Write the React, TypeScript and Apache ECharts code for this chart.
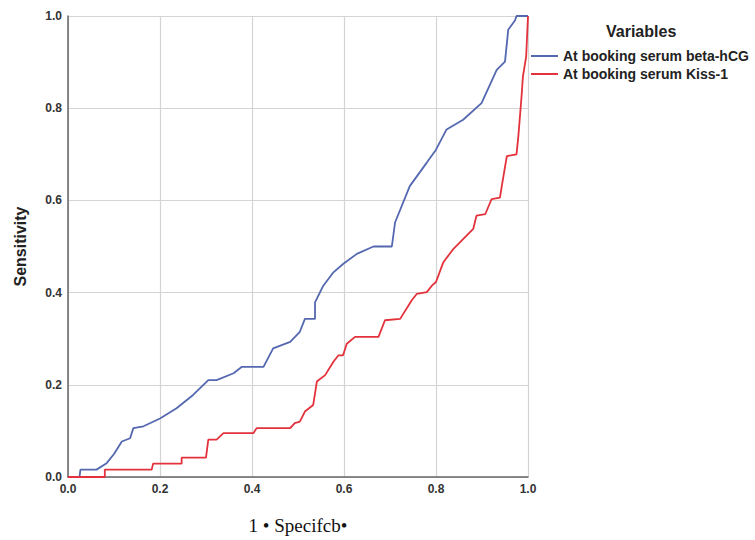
import React, { useEffect, useRef } from "react";
import * as echarts from "echarts";

const xTicks = ["0.0", "0.2", "0.4", "0.6", "0.8", "1.0"];
const seriesNames = ["At booking serum beta-hCG", "At booking serum Kiss-1"];

const betaFpr = [0, 0.025, 0.027, 0.062, 0.084, 0.1, 0.117, 0.135, 0.142, 0.164, 0.2, 0.236, 0.272, 0.305, 0.323, 0.36, 0.378, 0.425, 0.446, 0.483, 0.504, 0.515, 0.537, 0.537, 0.555, 0.577, 0.598, 0.628, 0.664, 0.704, 0.711, 0.743, 0.78, 0.8, 0.823, 0.859, 0.899, 0.932, 0.95, 0.957, 0.972, 0.975, 1];
const betaTpr = [0, 0, 0.016, 0.016, 0.03, 0.05, 0.077, 0.084, 0.106, 0.11, 0.127, 0.149, 0.178, 0.21, 0.21, 0.225, 0.239, 0.239, 0.279, 0.293, 0.315, 0.343, 0.343, 0.379, 0.415, 0.444, 0.462, 0.484, 0.5, 0.5, 0.552, 0.631, 0.682, 0.71, 0.754, 0.775, 0.811, 0.883, 0.901, 0.97, 0.991, 1, 1];

const kissFpr = [0, 0.08, 0.08, 0.182, 0.185, 0.247, 0.247, 0.3, 0.305, 0.323, 0.338, 0.403, 0.41, 0.483, 0.493, 0.504, 0.515, 0.533, 0.541, 0.559, 0.577, 0.588, 0.598, 0.606, 0.624, 0.675, 0.689, 0.722, 0.747, 0.758, 0.78, 0.791, 0.8, 0.816, 0.838, 0.881, 0.888, 0.907, 0.921, 0.939, 0.943, 0.954, 0.975, 0.979, 0.986, 0.989, 0.996, 1];
const kissTpr = [0, 0, 0.016, 0.016, 0.029, 0.029, 0.042, 0.042, 0.081, 0.081, 0.095, 0.095, 0.106, 0.106, 0.117, 0.12, 0.142, 0.156, 0.207, 0.221, 0.25, 0.264, 0.264, 0.289, 0.304, 0.304, 0.34, 0.343, 0.383, 0.397, 0.401, 0.415, 0.423, 0.466, 0.495, 0.538, 0.567, 0.57, 0.603, 0.606, 0.631, 0.696, 0.7, 0.739, 0.826, 0.869, 0.912, 1];

const zip = (a: number[], b: number[]) => a.map((v, i) => [v, b[i]]);

export default function App() {
  const ref = useRef<HTMLDivElement>(null);
  useEffect(() => {
    document.body.style.margin = "0";
    const chart = echarts.init(ref.current!, null, { renderer: "svg" });
    const sans = "Arial, 'Liberation Sans', sans-serif";
    const axisLabel = {
      fontFamily: sans,
      fontWeight: "bold" as const,
      fontSize: 12,
      color: "#333",
    };
    chart.setOption({
      animation: false,
      backgroundColor: "#fff",
      grid: { left: 68, right: 227, top: 16, bottom: 61 },
      xAxis: {
        type: "value",
        min: 0,
        max: 1,
        interval: 0.2,
        name: "1 • Specifcb•",
        nameLocation: "middle",
        nameGap: 39,
        nameTextStyle: { fontFamily: "'Liberation Serif', 'Times New Roman', serif", fontSize: 19, color: "#111" },
        axisLine: { lineStyle: { color: "#666", width: 1.5 } },
        axisTick: { show: false },
        axisLabel: { ...axisLabel, margin: 6, formatter: (v: number) => xTicks[Math.round(v * 5)] },
        splitLine: { lineStyle: { color: "#d4d4d4", width: 1.2 } },
      },
      yAxis: {
        type: "value",
        min: 0,
        max: 1,
        interval: 0.2,
        name: "Sensitivity",
        nameLocation: "middle",
        nameGap: 40,
        nameTextStyle: { fontFamily: sans, fontWeight: "bold", fontSize: 16, color: "#222" },
        axisLine: { show: true, lineStyle: { color: "#666", width: 1.5 } },
        axisTick: { show: false },
        axisLabel: { ...axisLabel, margin: 6, formatter: (v: number) => xTicks[Math.round(v * 5)] },
        splitLine: { lineStyle: { color: "#d4d4d4", width: 1.2 } },
      },
      legend: {
        orient: "vertical",
        left: 531,
        top: 48,
        padding: 0,
        itemWidth: 27,
        itemHeight: 2,
        itemGap: 2,
        icon: "rect",
        data: seriesNames,
        textStyle: { fontFamily: sans, fontWeight: "bold", fontSize: 14, lineHeight: 16, color: "#222", padding: [0, 0, 0, 0] },
      },
      graphic: [
        {
          type: "text",
          left: 606,
          top: 23,
          style: { text: "Variables", fontFamily: sans, fontWeight: "bold", fontSize: 16, fill: "#222" },
        },
      ],
      series: [
        {
          name: seriesNames[0],
          type: "line",
          data: zip(betaFpr, betaTpr),
          showSymbol: false,
          symbol: "none",
          color: "#5468b0",
          lineStyle: { width: 1.8, color: "#5468b0" },
        },
        {
          name: seriesNames[1],
          type: "line",
          data: zip(kissFpr, kissTpr),
          showSymbol: false,
          symbol: "none",
          color: "#e4323c",
          lineStyle: { width: 1.8, color: "#e4323c" },
        },
      ],
    });
    return () => chart.dispose();
  }, []);
  return <div ref={ref} style={{ width: 755, height: 540 }} />;
}
